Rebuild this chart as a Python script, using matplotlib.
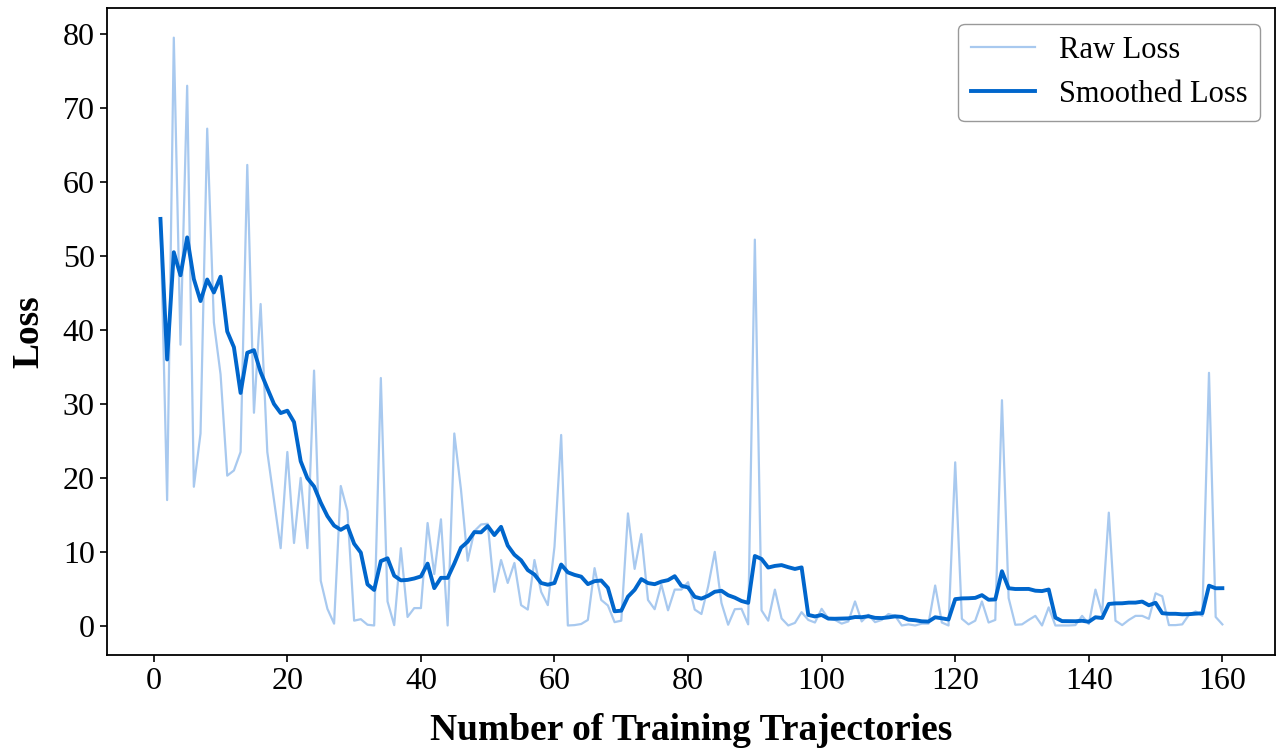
import numpy as np
import matplotlib
matplotlib.use("Agg")
import matplotlib.pyplot as plt

# Trajectory index and per-trajectory loss
trajectories = list(range(1, 161))

raw_loss = [
    55, 17, 79.5, 38, 73, 18.8, 26, 67.2, 41, 34,
    20.3, 21, 23.5, 62.3, 28.8, 43.5, 23.5, 17, 10.5, 23.5,
    11.2, 20, 10.5, 34.5, 6.1, 2.3, 0.3, 18.9, 15.5, 0.7,
    0.9, 0.15, 0.05, 33.5, 3.3, 0.1, 10.5, 1.2, 2.4, 2.4,
    13.9, 7.0, 14.4, 0.05, 26, 18.4, 8.8, 12.8, 13.7, 13.8,
    4.6, 8.9, 5.8, 8.5, 2.8, 2.2, 8.9, 4.6, 2.8, 10.7,
    25.8, 0.05, 0.1, 0.25, 0.8, 7.8, 3.5, 2.75, 0.5, 0.7,
    15.2, 7.7, 12.4, 3.5, 2.25, 5.6, 2.1, 4.9, 4.9, 5.9,
    2.2, 1.6, 5.3, 10, 3.1, 0.15, 2.25, 2.3, 0.2, 52.2,
    2.1, 0.7, 4.9, 1.0, 0.05, 0.4, 1.85, 0.8, 0.45, 2.3,
    1.0, 0.8, 0.3, 0.6, 3.3, 0.6, 1.5, 0.5, 0.8, 1.6,
    1.35, 0.05, 0.2, 0.05, 0.3, 0.3, 5.45, 0.45, 0.05, 22.1,
    0.95, 0.2, 0.7, 3.3, 0.45, 0.8, 30.5, 3.75, 0.15, 0.2,
    0.8, 1.35, 0.05, 2.5, 0.05, 0.05, 0.05, 0.1, 1.35, 0.25,
    4.9, 1.7, 15.3, 0.7, 0.1, 0.8, 1.35, 1.35, 0.95, 4.4,
    4.0, 0.1, 0.1, 0.2, 1.5, 1.95, 1.35, 34.2, 1.2, 0.2,
]

smoothed_loss = [
    55.0, 36.0, 50.5, 47.38, 52.5, 46.88, 43.9, 46.81, 45.06, 47.19,
    39.79, 37.66, 31.48, 36.91, 37.26, 34.3, 32.11, 29.99, 28.76, 29.08,
    27.54, 22.25, 19.96, 18.84, 16.66, 14.83, 13.55, 12.98, 13.51, 11.1,
    9.9, 5.61, 4.85, 8.75, 9.13, 6.78, 6.15, 6.21, 6.4, 6.68,
    8.41, 5.1, 6.49, 6.48, 8.42, 10.57, 11.37, 12.67, 12.64, 13.49,
    12.27, 13.38, 10.85, 9.61, 8.86, 7.54, 6.94, 5.79, 5.56, 5.79,
    8.29, 7.23, 6.89, 6.65, 5.64, 6.04, 6.13, 5.13, 1.97, 2.05,
    3.94, 4.87, 6.32, 5.78, 5.63, 5.98, 6.18, 6.71, 5.42, 5.19,
    3.92, 3.68, 4.06, 4.61, 4.74, 4.14, 3.81, 3.36, 3.11, 9.44,
    9.04, 7.88, 8.1, 8.21, 7.93, 7.69, 7.9, 1.48, 1.27, 1.47,
    0.98, 0.96, 0.99, 1.01, 1.19, 1.17, 1.3, 1.08, 1.05, 1.15,
    1.28, 1.21, 0.83, 0.76, 0.61, 0.58, 1.16, 1.02, 0.86, 3.61,
    3.71, 3.73, 3.78, 4.15, 3.53, 3.57, 7.38, 5.08, 4.98, 4.98,
    4.99, 4.75, 4.7, 4.91, 1.11, 0.64, 0.63, 0.62, 0.69, 0.55,
    1.16, 1.06, 2.96, 3.04, 3.05, 3.14, 3.14, 3.28, 2.78, 3.12,
    1.71, 1.63, 1.63, 1.56, 1.58, 1.65, 1.7, 5.43, 5.08, 5.09,
]

x_ticks = [0, 20, 40, 60, 80, 100, 120, 140, 160]
y_ticks = [0, 10, 20, 30, 40, 50, 60, 70, 80]

plt.rcParams['font.family'] = ['Liberation Serif', 'DejaVu Serif']

fig, ax = plt.subplots(figsize=(12.78, 7.51), dpi=100)
fig.subplots_adjust(left=0.084, right=0.998, top=0.989, bottom=0.128)

ax.plot(trajectories, raw_loss, color='#a8c9ef', linewidth=1.6, label='Raw Loss')
ax.plot(trajectories, smoothed_loss, color='#0066cc', linewidth=2.8, label='Smoothed Loss')

ax.set_xticks(x_ticks)
ax.set_yticks(y_ticks)
ax.tick_params(axis='both', labelsize=23, length=5, width=1.2, pad=4)
for spine in ax.spines.values():
    spine.set_linewidth(1.3)

ax.set_xlabel('Number of Training Trajectories', fontsize=27, fontweight='bold', labelpad=12)
ax.set_ylabel('Loss', fontsize=27, fontweight='bold', labelpad=12)

leg = ax.legend(loc='upper right', fontsize=22, handlelength=2.1, handletextpad=0.8,
                borderpad=0.4, labelspacing=0.5, fancybox=True, framealpha=1)
leg.get_frame().set_edgecolor('#999999')

fig.savefig('out.png', dpi=100)
